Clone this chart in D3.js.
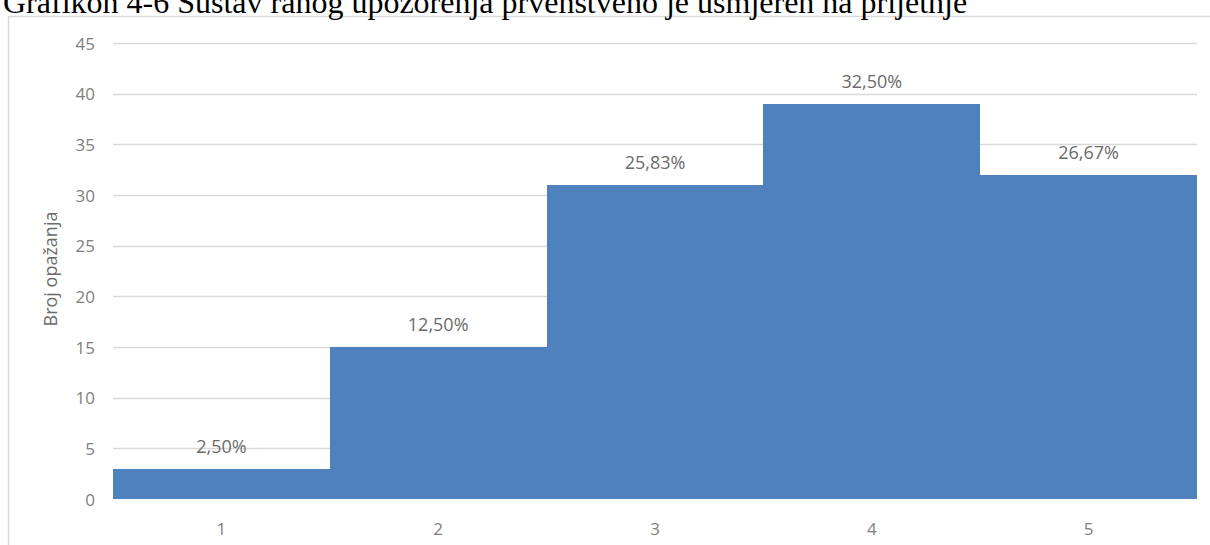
<!DOCTYPE html>
<html>
<head>
<meta charset="utf-8">
<script src="https://cdn.jsdelivr.net/npm/d3@7"></script>
<style>
  html, body { margin: 0; padding: 0; background: #fff; overflow: hidden; }
  svg { display: block; }
</style>
</head>
<body>
<svg id="chart" width="1210" height="545"></svg>
<script>
// Observation counts per rating (1–5) and their shares of the total
const categories = ["1", "2", "3", "4", "5"];
const counts = [3, 15, 31, 39, 32];
const shareLabels = ["2,50%", "12,50%", "25,83%", "32,50%", "26,67%"];
const yTicks = [0, 5, 10, 15, 20, 25, 30, 35, 40, 45];
const titleText = "Grafikon 4-6 Sustav ranog upozorenja prvenstveno je usmjeren na prijetnje";
const yAxisTitle = "Broj opažanja";

const svg = d3.select("#chart");
const W = 1210, H = 545;
const plot = { left: 113, right: 1197, top: 43, bottom: 499 };
const font = "'Open Sans', sans-serif";

// Chart frame (top and left edges visible)
svg.append("path")
  .attr("d", `M8.5,${H} L8.5,16.5 L${W},16.5`)
  .attr("fill", "none")
  .attr("stroke", "#d9d9d9")
  .attr("stroke-width", 1.5);

// Caption above the frame
svg.append("text")
  .attr("x", 3)
  .attr("y", 13)
  .attr("font-family", "'Liberation Serif', 'Times New Roman', serif")
  .attr("font-size", 32)
  .attr("fill", "#000")
  .text(titleText);

const x = d3.scaleBand()
  .domain(categories)
  .range([plot.left, plot.right])
  .paddingInner(0)
  .paddingOuter(0);

const y = d3.scaleLinear()
  .domain([0, 45])
  .range([plot.bottom, plot.top]);

// Horizontal gridlines
svg.append("g")
  .selectAll("line")
  .data(yTicks.filter(t => t > 0))
  .join("line")
  .attr("x1", plot.left)
  .attr("x2", plot.right)
  .attr("y1", d => Math.round(y(d)) + 0.5)
  .attr("y2", d => Math.round(y(d)) + 0.5)
  .attr("stroke", "#d9d9d9")
  .attr("stroke-width", 1.5);

// Y axis tick labels
const yAxis = d3.axisLeft(y).tickValues(yTicks).tickSize(0).tickPadding(0);
const gy = svg.append("g")
  .attr("transform", `translate(95,0)`)
  .call(yAxis);
gy.select(".domain").remove();
gy.selectAll("text")
  .attr("font-family", font)
  .attr("font-size", 17)
  .attr("fill", "#7f7f7f")
  .attr("dy", "0.36em");

// X axis category labels
const xAxis = d3.axisBottom(x).tickSize(0).tickPadding(0);
const gx = svg.append("g")
  .attr("transform", `translate(0,${plot.bottom})`)
  .call(xAxis);
gx.select(".domain").remove();
gx.selectAll("text")
  .attr("font-family", font)
  .attr("font-size", 17)
  .attr("fill", "#7f7f7f")
  .attr("dy", 0)
  .attr("y", 36);

// Bars (no gaps between categories); edges snapped to whole pixels
svg.append("g")
  .attr("shape-rendering", "crispEdges")
  .selectAll("rect")
  .data(counts)
  .join("rect")
  .attr("x", (d, i) => Math.round(x(categories[i])))
  .attr("y", d => Math.round(y(d)))
  .attr("width", (d, i) => Math.round(x(categories[i]) + x.bandwidth()) - Math.round(x(categories[i])))
  .attr("height", d => Math.round(y(0)) - Math.round(y(d)))
  .attr("fill", "#4f81bd");

// Percentage labels above each bar
svg.append("g")
  .selectAll("text")
  .data(counts)
  .join("text")
  .attr("x", (d, i) => x(categories[i]) + x.bandwidth() / 2)
  .attr("y", d => y(d) - 16)
  .attr("text-anchor", "middle")
  .attr("font-family", font)
  .attr("font-size", 18)
  .attr("fill", "#6b6b6b")
  .text((d, i) => shareLabels[i]);

// Y axis title
svg.append("text")
  .attr("transform", `translate(57,269) rotate(-90)`)
  .attr("text-anchor", "middle")
  .attr("font-family", font)
  .attr("font-size", 18)
  .attr("fill", "#6b6b6b")
  .text(yAxisTitle);
</script>
</body>
</html>
